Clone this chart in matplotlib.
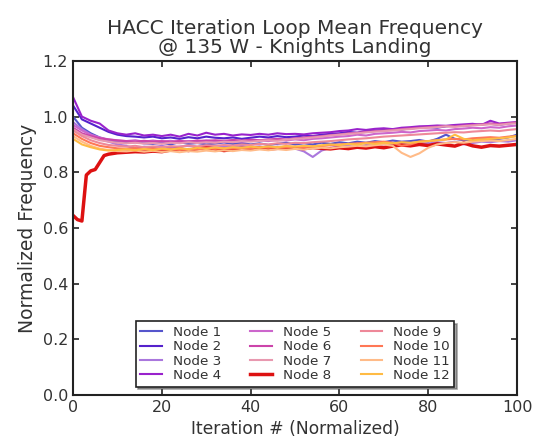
import numpy as np
import matplotlib
matplotlib.use("Agg")
import matplotlib.pyplot as plt

# iteration grid (normalized), step 2
iters = np.arange(0, 101, 2)

node_names = ['Node %d' % i for i in range(1, 13)]
node_colors = ['#5555cc', '#5522cc', '#aa77dd', '#9922cc',
               '#cc66cc', '#cc44aa', '#e899b0', '#dd1111',
               '#ee8899', '#ff7755', '#ffbb88', '#ffbb44']

node1 = [1.0, 0.96, 0.94, 0.925, 0.915, 0.91, 0.905, 0.908, 0.904, 0.902,
         0.906, 0.9, 0.908, 0.902, 0.905, 0.9, 0.903, 0.907, 0.902, 0.905,
         0.9, 0.904, 0.898, 0.902, 0.906, 0.9, 0.904, 0.9, 0.906, 0.902,
         0.908, 0.904, 0.91, 0.906, 0.912, 0.908, 0.914, 0.91, 0.912, 0.916,
         0.91, 0.92, 0.935, 0.92, 0.915, 0.918, 0.922, 0.918, 0.92, 0.925,
         0.935]
node2 = [1.04, 0.99, 0.975, 0.96, 0.945, 0.935, 0.93, 0.928, 0.925, 0.928,
         0.922, 0.925, 0.92, 0.926, 0.922, 0.928, 0.924, 0.922, 0.925, 0.92,
         0.924, 0.928, 0.925, 0.93, 0.926, 0.928, 0.932, 0.93, 0.935, 0.938,
         0.94, 0.945, 0.942, 0.948, 0.95, 0.952, 0.955, 0.953, 0.958, 0.96,
         0.962, 0.96, 0.965, 0.968, 0.966, 0.97, 0.972, 0.974, 0.97, 0.975,
         0.978]
node3 = [0.98, 0.955, 0.935, 0.92, 0.91, 0.9, 0.895, 0.885, 0.892, 0.89,
         0.895, 0.888, 0.892, 0.895, 0.89, 0.893, 0.888, 0.892, 0.89, 0.895,
         0.89, 0.893, 0.888, 0.892, 0.89, 0.885, 0.875, 0.855, 0.878, 0.888,
         0.892, 0.895, 0.89, 0.898, 0.895, 0.9, 0.898, 0.902, 0.9, 0.905,
         0.903, 0.908, 0.905, 0.91, 0.9, 0.905, 0.91, 0.908, 0.912, 0.91,
         0.915]
node4 = [1.07, 1.0, 0.985, 0.975, 0.95, 0.94, 0.935, 0.94, 0.932, 0.935,
         0.93, 0.935, 0.928, 0.938, 0.932, 0.942, 0.935, 0.938, 0.932, 0.936,
         0.934, 0.938, 0.935, 0.94, 0.937, 0.938, 0.936, 0.94, 0.942, 0.944,
         0.948, 0.95, 0.955, 0.952, 0.956, 0.958, 0.955, 0.96, 0.962, 0.965,
         0.966, 0.968, 0.967, 0.97, 0.972, 0.974, 0.97, 0.985, 0.975, 0.978,
         0.98]
node5 = [0.97, 0.95, 0.935, 0.925, 0.918, 0.915, 0.912, 0.915, 0.91, 0.914,
         0.91, 0.913, 0.908, 0.912, 0.91, 0.915, 0.912, 0.91, 0.914, 0.91,
         0.913, 0.915, 0.912, 0.916, 0.914, 0.918, 0.915, 0.92, 0.922, 0.925,
         0.928, 0.93, 0.935, 0.932, 0.938, 0.94, 0.942, 0.945, 0.943, 0.948,
         0.95, 0.952, 0.95, 0.955, 0.957, 0.96, 0.958, 0.962, 0.96, 0.965,
         0.968]
node6 = [0.96, 0.94, 0.93, 0.922, 0.918, 0.914, 0.912, 0.91, 0.913, 0.91,
         0.912, 0.909, 0.913, 0.91, 0.914, 0.912, 0.915, 0.913, 0.916, 0.914,
         0.917, 0.915, 0.918, 0.92, 0.918, 0.922, 0.925, 0.928, 0.93, 0.934,
         0.936, 0.94, 0.942, 0.945, 0.948, 0.95, 0.952, 0.955, 0.958, 0.96,
         0.962, 0.964, 0.966, 0.965, 0.968, 0.97, 0.972, 0.975, 0.973, 0.976,
         0.98]
node7 = [0.955, 0.935, 0.925, 0.915, 0.91, 0.906, 0.904, 0.906, 0.903, 0.905,
         0.902, 0.906, 0.904, 0.908, 0.905, 0.908, 0.906, 0.91, 0.908, 0.912,
         0.91, 0.913, 0.915, 0.913, 0.917, 0.92, 0.922, 0.925, 0.928, 0.932,
         0.935, 0.938, 0.94, 0.943, 0.946, 0.948, 0.95, 0.953, 0.955, 0.958,
         0.96, 0.962, 0.965, 0.963, 0.966, 0.968, 0.97, 0.972, 0.97, 0.974,
         0.976]
# node 8 has a slow start, sampled finer at the beginning
iters_node8 = [0, 1, 2, 3, 4, 5, 6, 7, 8] + list(range(10, 101, 2))
node8 = [0.645, 0.63, 0.625, 0.79, 0.805, 0.81, 0.835, 0.86, 0.865,
         0.87, 0.872, 0.874, 0.873, 0.876, 0.874, 0.88, 0.884, 0.878, 0.885,
         0.89, 0.884, 0.878, 0.882, 0.886, 0.883, 0.888, 0.884, 0.886, 0.89,
         0.888, 0.885, 0.889, 0.886, 0.884, 0.888, 0.885, 0.89, 0.887, 0.892,
         0.888, 0.894, 0.898, 0.895, 0.9, 0.896, 0.902, 0.898, 0.894, 0.905,
         0.895, 0.89, 0.896, 0.894, 0.897, 0.9]
node9 = [0.95, 0.93, 0.915, 0.905, 0.898, 0.895, 0.892, 0.895, 0.89, 0.893,
         0.89, 0.894, 0.892, 0.896, 0.893, 0.897, 0.895, 0.898, 0.896, 0.9,
         0.898, 0.902, 0.9, 0.904, 0.902, 0.906, 0.905, 0.908, 0.91, 0.912,
         0.915, 0.918, 0.92, 0.922, 0.925, 0.928, 0.93, 0.932, 0.934, 0.936,
         0.938, 0.94, 0.942, 0.944, 0.943, 0.946, 0.948, 0.95, 0.948, 0.952,
         0.955]
node10 = [0.94, 0.92, 0.905, 0.895, 0.89, 0.886, 0.884, 0.887, 0.883, 0.886,
          0.882, 0.885, 0.88, 0.884, 0.882, 0.886, 0.884, 0.887, 0.885, 0.888,
          0.886, 0.89, 0.888, 0.891, 0.889, 0.892, 0.89, 0.893, 0.895, 0.897,
          0.9, 0.902, 0.904, 0.906, 0.908, 0.91, 0.906, 0.895, 0.9, 0.91,
          0.912, 0.915, 0.918, 0.92, 0.918, 0.922, 0.924, 0.926, 0.924, 0.928,
          0.93]
node11 = [0.93, 0.91, 0.895, 0.885, 0.88, 0.876, 0.875, 0.878, 0.874, 0.877,
          0.873, 0.876, 0.872, 0.876, 0.874, 0.878, 0.875, 0.879, 0.876, 0.88,
          0.878, 0.882, 0.879, 0.883, 0.88, 0.884, 0.882, 0.886, 0.888, 0.886,
          0.89, 0.892, 0.895, 0.893, 0.897, 0.9, 0.895, 0.87, 0.855, 0.868,
          0.888, 0.9, 0.905, 0.908, 0.906, 0.91, 0.912, 0.914, 0.912, 0.916,
          0.92]
node12 = [0.92, 0.9, 0.89, 0.882, 0.878, 0.88, 0.883, 0.879, 0.884, 0.88,
          0.885, 0.882, 0.886, 0.883, 0.888, 0.885, 0.889, 0.886, 0.89, 0.888,
          0.892, 0.889, 0.893, 0.89, 0.894, 0.892, 0.895, 0.893, 0.897, 0.9,
          0.898, 0.902, 0.9, 0.904, 0.902, 0.906, 0.904, 0.908, 0.906, 0.91,
          0.912, 0.915, 0.918, 0.935, 0.92, 0.915, 0.918, 0.92, 0.922, 0.925,
          0.93]

series = [node1, node2, node3, node4, node5, node6,
          node7, node8, node9, node10, node11, node12]

fig = plt.figure(figsize=(5.33, 4.38), dpi=100)
ax = fig.add_axes([0.137, 0.098, 0.833, 0.763])

for i, vals in enumerate(series):
    x = iters_node8 if i == 7 else iters
    lw = 2.5 if i == 7 else 1.5
    ax.plot(x, vals, color=node_colors[i], lw=lw, label=node_names[i])

ax.set_xlim(0, 100)
ax.set_ylim(0.0, 1.2)
ax.set_xticks([0, 20, 40, 60, 80, 100])
ax.set_yticks(np.arange(0, 1.21, 0.2))
ax.tick_params(direction='in', top=True, right=True, length=4, width=1.2,
               labelsize=11.5, colors='#222222', labelcolor='#333333')
for s in ax.spines.values():
    s.set_linewidth(1.5)
    s.set_color('#222222')

ax.set_xlabel('Iteration # (Normalized)', fontsize=12.3, color='#333333')
ax.set_ylabel('Normalized Frequency', fontsize=13.5, color='#333333')
ax.set_title('HACC Iteration Loop Mean Frequency\n@ 135 W - Knights Landing',
             fontsize=14.5, color='#333333', linespacing=0.95)

leg = ax.legend(ncol=3, loc='lower center', bbox_to_anchor=(0.5, 0.005),
                fontsize=9.7, shadow=True, fancybox=False, handlelength=1.6,
                columnspacing=2.2, labelspacing=0.1, borderpad=0.35,
                framealpha=1)
leg.get_frame().set_edgecolor('#222222')
leg.get_frame().set_linewidth(1.2)
for t in leg.get_texts():
    t.set_color('#333333')

fig.savefig('out.png', dpi=100)
